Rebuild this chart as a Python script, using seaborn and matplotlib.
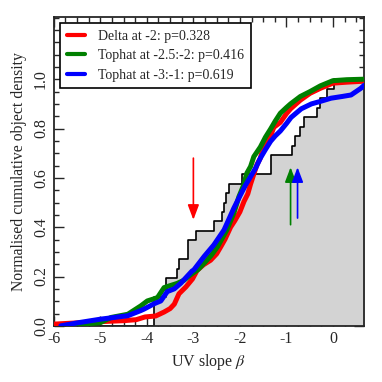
import numpy as np
import matplotlib
matplotlib.use('Agg')
import matplotlib.pyplot as plt
from matplotlib.ticker import MultipleLocator, FixedLocator
import seaborn as sns

beta_obs = [-3.85, -3.85, -3.85, -3.59, -3.59, -3.35, -3.30, -3.12, -3.12, -2.95,
            -2.56, -2.38, -2.34, -2.29, -2.24, -1.95, -1.34, -1.34, -0.88, -0.81,
            -0.70, -0.63, -0.35, -0.27, -0.13, 0.03]

# model cumulative curves
red_x = [-6.0, -5.5, -5.0, -4.5, -4.23, -4.04, -3.81, -3.63, -3.5, -3.41, -3.31, -3.16,
         -3.02, -2.92, -2.78, -2.63, -2.5, -2.41, -2.32, -2.2, -2.11, -2.0, -1.91, -1.83,
         -1.77, -1.7, -1.63, -1.56, -1.49, -1.41, -1.34, -1.27, -1.13, -1.0, -0.91, -0.7,
         -0.49, -0.27, 0.0, 0.3, 0.67]
red_y = [0.007, 0.012, 0.017, 0.021, 0.025, 0.036, 0.040, 0.056, 0.070, 0.088, 0.130, 0.158,
         0.190, 0.225, 0.248, 0.266, 0.292, 0.321, 0.351, 0.400, 0.426, 0.462, 0.505, 0.535,
         0.575, 0.615, 0.655, 0.680, 0.730, 0.755, 0.770, 0.805, 0.825, 0.860, 0.880, 0.915,
         0.943, 0.963, 0.984, 0.988, 0.992]

green_x = [-5.8, -5.5, -5.0, -4.77, -4.41, -4.13, -3.99, -3.84, -3.77, -3.63, -3.55, -3.35,
           -3.2, -3.06, -2.9, -2.77, -2.62, -2.48, -2.38, -2.28, -2.13, -2.02, -1.92, -1.85,
           -1.77, -1.7, -1.56, -1.45, -1.34, -1.24, -1.13, -1.0, -0.91, -0.7, -0.49, -0.27,
           0.0, 0.3, 0.67]
green_y = [0.0, 0.004, 0.013, 0.034, 0.047, 0.081, 0.101, 0.110, 0.115, 0.155, 0.160, 0.172,
           0.185, 0.207, 0.228, 0.254, 0.285, 0.321, 0.355, 0.389, 0.457, 0.524, 0.570, 0.619,
           0.646, 0.686, 0.725, 0.765, 0.798, 0.830, 0.862, 0.885, 0.900, 0.930, 0.950, 0.973,
           0.994, 0.998, 1.0]

blue_x = [-5.85, -5.5, -5.0, -4.41, -4.13, -4.06, -3.84, -3.7, -3.56, -3.41, -3.27, -3.03,
          -2.99, -2.77, -2.56, -2.34, -2.13, -1.99, -1.88, -1.77, -1.66, -1.56, -1.45, -1.34,
          -1.24, -1.13, -1.0, -0.9, -0.68, -0.46, -0.27, -0.04, 0.2, 0.39, 0.6, 0.67]
blue_y = [0.0, 0.012, 0.027, 0.041, 0.062, 0.068, 0.090, 0.101, 0.139, 0.150, 0.173, 0.222,
          0.227, 0.281, 0.328, 0.389, 0.477, 0.530, 0.570, 0.605, 0.640, 0.680, 0.715, 0.748,
          0.770, 0.790, 0.820, 0.845, 0.880, 0.900, 0.910, 0.923, 0.930, 0.936, 0.963, 0.975]

labels = ['Delta at -2: p=0.328', 'Tophat at -2.5:-2: p=0.416', 'Tophat at -3:-1: p=0.619']
colors = ['red', 'green', 'blue']

# arrows: (x, start, end)
arrow_x = [-3.0, -0.91, -0.76]
arrow_from = [0.68, 0.41, 0.437]
arrow_to = [0.43, 0.643, 0.643]

sns.set_style('ticks')
plt.rcParams['font.family'] = ['Liberation Serif', 'DejaVu Serif']
plt.rcParams['mathtext.fontset'] = 'stix'
plt.rcParams['axes.unicode_minus'] = False

fig = plt.figure(figsize=(3.82, 3.82), dpi=100)
ax = fig.add_axes([0.141, 0.147, 0.812, 0.809])

# observed cumulative distribution as filled step
xs = np.sort(beta_obs)
cum = np.arange(1, len(xs) + 1) / len(xs)
sx = np.concatenate([[-6.0], xs, [0.7]])
sy = np.concatenate([[0.0], cum, [1.0]])
ax.fill_between(sx, sy, step='post', color='lightgray', lw=0, zorder=1)
ax.step(sx, sy, where='post', color='black', lw=1.2, zorder=2)

for x, y, c, lab in zip([red_x, green_x, blue_x], [red_y, green_y, blue_y], colors, labels):
    sns.lineplot(x=x, y=y, color=c, lw=3.6, label=lab, ax=ax, sort=False,
                 estimator=None, zorder=3)

for x0, y0, y1, c in zip(arrow_x, arrow_from, arrow_to, colors):
    ax.annotate('', xy=(x0, y1), xytext=(x0, y0),
                arrowprops=dict(arrowstyle='-|>,head_length=0.45,head_width=0.17',
                                color=c, lw=1.2, mutation_scale=20,
                                shrinkA=0, shrinkB=0), zorder=4)

ax.set_xlim(-6, 0.67)
ax.set_ylim(0, 1.253)
ax.xaxis.set_major_locator(MultipleLocator(1))
ax.xaxis.set_minor_locator(MultipleLocator(0.25))
ax.yaxis.set_major_locator(FixedLocator([0.0, 0.2, 0.4, 0.6, 0.8, 1.0]))
ax.yaxis.set_minor_locator(MultipleLocator(0.05))
ax.tick_params(which='both', direction='in', top=True, right=True, width=1)
ax.tick_params(which='major', length=7, labelsize=11.5)
ax.tick_params(which='minor', length=3.5)
for t in ax.get_yticklabels():
    t.set_rotation(90)
    t.set_va('center')
for s in ax.spines.values():
    s.set_linewidth(1.3)

ax.set_xlabel(r'UV slope $\beta$', fontsize=11.5)
ax.set_ylabel('Normalised cumulative object density', fontsize=11.3)

leg = ax.legend(loc='upper left', frameon=True, fancybox=False, edgecolor='black',
                framealpha=1, fontsize=10, handlelength=1.3, handletextpad=0.9,
                borderpad=0.5, labelspacing=0.45, borderaxespad=0.45)
leg.get_frame().set_linewidth(1.2)
for h in leg.get_lines():
    h.set_linewidth(3.0)

fig.savefig('out.png', dpi=100)
